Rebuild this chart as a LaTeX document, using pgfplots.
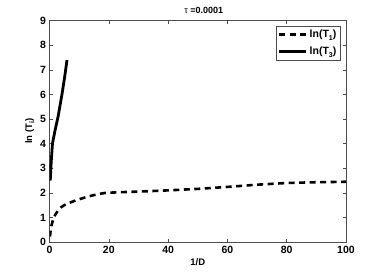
\documentclass[border=0pt]{standalone}
\usepackage{pgfplots}
\pgfplotsset{compat=1.18}
\usepackage{fontspec}
\setmainfont{Liberation Sans}
\newcommand\sub[1]{\raisebox{-0.45ex}{\fontsize{7bp}{7bp}\selectfont #1}}
\begin{document}
\begin{tikzpicture}
\begin{axis}[
  scale only axis,
  width=296.5bp, height=221.3bp,
  at={(0,0)}, anchor=south west,
  xmin=0, xmax=100, ymin=0, ymax=9,
  xtick={0,20,...,100}, ytick={0,1,...,9},
  tick align=inside,
  major tick length=3bp,
  axis line style={black!70, line width=0.6bp},
  tick style={black!70, line width=0.5bp},
  /pgf/number format/assume math mode=true,
  ticklabel style={font=\fontsize{10.5bp}{12bp}\selectfont\bfseries},
  xticklabel style={yshift=-1bp},
  title={{\mdseries τ} =0.0001},
  title style={font=\fontsize{9bp}{10bp}\selectfont\bfseries, at={(0.52,1)}, yshift=-2bp},
  xlabel={1/D},
  ylabel={ln (T\sub{i})},
  label style={font=\fontsize{9.5bp}{11bp}\selectfont\bfseries},
  xlabel style={yshift=2bp},
  ylabel style={yshift=-1bp},
  legend style={at={(0.982,0.977)}, anchor=north east, draw=black!70,
    font=\fontsize{10.5bp}{12bp}\selectfont\bfseries, row sep=4bp,
    inner sep=2bp, line width=0.6bp},
  legend cell align=left,
  legend image code/.code={\draw[#1] (0bp,0bp) -- (27bp,0bp);},
]
\addplot[black, line width=2.6bp, dash pattern=on 6bp off 4.5bp] table {
0.17 0.22
0.4 0.5
0.7 0.69
1.3 0.95
2 1.12
3 1.3
4 1.42
5 1.5
6.9 1.6
9 1.7
11.4 1.79
14 1.88
16.5 1.95
19 2.0
25 2.03
30 2.05
40 2.1
50 2.16
60 2.24
70 2.33
80 2.40
90 2.43
100 2.45
};
\addlegendentry{ln(T\sub{1})}
\addplot[black, line width=2.8bp] table {
0.25 2.5
0.6 3.3
1.0 4.0
1.8 4.5
2.9 5.1
4.2 6.0
5.1 6.7
5.9 7.4
};
\addlegendentry{ln(T\sub{3})}
\end{axis}
\path (-49.5bp,-31bp) rectangle (332.5bp,242bp);
\end{tikzpicture}
\end{document}
